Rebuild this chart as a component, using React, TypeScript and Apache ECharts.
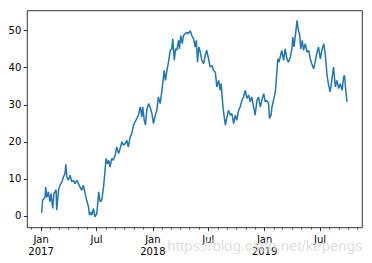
import React, { useEffect, useRef } from "react";
import * as echarts from "echarts";

// Day offsets from 2017-01-01 and the cumulative values
const dayOffsets = [
  0, 2, 5, 13, 15, 19, 24, 29, 33, 38,
  42, 49, 51, 57, 62, 68, 73, 78, 81, 84,
  89, 95, 100, 106, 111, 117, 122, 127, 133, 138,
  144, 149, 155, 158, 162, 166, 171, 176, 182, 185,
  188, 193, 198, 204, 209, 212, 217, 221, 225, 231,
  236, 242, 247, 253, 258, 264, 269, 275, 280, 285,
  291, 296, 302, 307, 313, 318, 324, 329, 332, 337,
  341, 345, 351, 356, 362, 367, 373, 378, 383, 389,
  394, 398, 402, 406, 411, 416, 422, 427, 430, 435,
  439, 443, 449, 452, 456, 461, 465, 471, 476, 481,
  487, 492, 498, 503, 507, 511, 515, 520, 525, 531,
  536, 541, 547, 552, 558, 563, 569, 574, 580, 585,
  588, 594, 598, 602, 607, 612, 618, 623, 629, 634,
  639, 645, 650, 656, 661, 667, 672, 678, 683, 688,
  694, 699, 705, 710, 716, 721, 727, 732, 737, 743,
  746, 751, 754, 759, 765, 768, 773, 777, 781, 786,
  792, 797, 803, 808, 814, 819, 822, 826, 831, 836,
  840, 844, 848, 853, 857, 863, 868, 874, 879, 884,
  890, 895, 900, 906, 912, 917, 923, 928, 934, 939,
  944, 950, 955, 961, 966, 972, 977, 983, 988, 991,
  995, 999,
];

const seriesValues = [
  0.9, 1.0, 4.2, 5, 7.8, 5, 6.5, 3.8, 6, 2,
  6, 7, 1.5, 7, 8.3, 9.2, 10.5, 11.4, 13.9, 10.5,
  9.6, 11, 9.2, 9.6, 8.7, 9.6, 8.7, 7.8, 6.9, 8.3,
  6, 4.2, 2.4, 0.2, 1, 0.2, 2, -0.3, 0.6, 3.3,
  6.5, 3.8, 4.2, 7.8, 12.3, 15.5, 14, 15, 13.2, 15.5,
  15, 16.4, 18.6, 16.8, 18.1, 20, 19.1, 19.5, 20.4, 18.6,
  21.3, 22.2, 24.5, 25.4, 26.3, 27.2, 29.4, 26.7, 29.4, 25.8,
  24.5, 28.5, 30.3, 29.4, 27.6, 24.9, 27.2, 28.5, 32.1, 30.3,
  33.5, 36.2, 39.3, 36.6, 39.3, 41.5, 44.7, 45.1, 47.8, 42,
  45.1, 44.7, 47.4, 45.1, 48.7, 46.5, 48.7, 49.2, 49.6, 49.2,
  50, 48.7, 47.8, 45.6, 47.4, 41.5, 45.6, 44.2, 42, 41.1,
  43.3, 44.7, 42.4, 40.2, 40.6, 39.3, 38.8, 34.8, 36.6, 33.9,
  35.7, 29.4, 26.7, 24.5, 26.7, 28.5, 27.2, 27.6, 24.9, 27.2,
  25.8, 28.5, 29.4, 31.2, 32.1, 33.9, 31.7, 32.6, 30.8, 32.1,
  29.4, 27.2, 31.2, 32.1, 29.4, 31.2, 33, 30.8, 31.2, 30.3,
  26.3, 27.2, 29.4, 31.2, 33.5, 36.6, 42.4, 41.5, 42.9, 44.7,
  42, 45.1, 42.4, 41.5, 42.9, 45.1, 48.3, 45.6, 49.2, 52.8,
  50.1, 49.2, 45.1, 47.4, 44.7, 46.5, 44.2, 44.7, 42.4, 41.1,
  39.7, 41.5, 43.7, 45.6, 42.4, 44.7, 46.5, 43.7, 37.9, 35.3,
  33.5, 37, 40.2, 34.8, 36.6, 34.4, 35.7, 33.9, 37.5, 37.9,
  33.9, 30.8,
];

const yTickValues = [0, 10, 20, 30, 40, 50];
const monthNames = ["Jan", "Feb", "Mar", "Apr", "May", "Jun", "Jul", "Aug", "Sep", "Oct", "Nov", "Dec"];
const majorMonths = [0, 6];
const watermark = "https://blog.csdn.net/kepengs";

const BASE = Date.UTC(2017, 0, 1);
const DAY = 86400000;
const X_MIN = -45;
const X_MAX = 1049;

function monthStarts() {
  const out: { off: number; m: number; y: number }[] = [];
  for (let y = 2016; y <= 2019; y++) {
    for (let m = 0; m < 12; m++) {
      const off = Math.round((Date.UTC(y, m, 1) - BASE) / DAY);
      if (off >= X_MIN && off <= X_MAX) out.push({ off, m, y });
    }
  }
  return out;
}

export default function App() {
  const ref = useRef<HTMLDivElement>(null);
  useEffect(() => {
    if (!ref.current) return;
    const chart = echarts.init(ref.current, undefined, { renderer: "svg" });
    const months = monthStarts();
    const major = months.filter((d) => majorMonths.includes(d.m));
    const minor = months.filter((d) => !majorMonths.includes(d.m));
    const labelMap: Record<number, string> = {};
    major.forEach((d) => {
      labelMap[d.off] = d.m === 0 ? `${monthNames[d.m]}\n${d.y}` : monthNames[d.m];
    });
    const font = "DejaVu Sans";
    chart.setOption({
      animation: false,
      backgroundColor: "#fff",
      grid: {
        left: 27.3,
        right: 9.7,
        top: 10.7,
        bottom: 35.3,
        show: true,
        borderColor: "#000",
        borderWidth: 0.8,
        backgroundColor: "transparent",
      },
      xAxis: [
        {
          type: "value",
          min: X_MIN,
          max: X_MAX,
          position: "bottom",
          axisLine: { show: false, onZero: false },
          splitLine: { show: false },
          axisTick: {
            show: true,
            length: 3.5,
            inside: false,
            lineStyle: { color: "#000", width: 0.8 },
            customValues: major.map((d) => d.off),
          },
          axisLabel: {
            show: true,
            margin: 6,
            color: "#000",
            fontFamily: font,
            fontSize: 10,
            lineHeight: 12,
            customValues: major.map((d) => d.off),
            formatter: (v: number) => labelMap[Math.round(v)] ?? "",
          },
        },
        {
          type: "value",
          min: X_MIN,
          max: X_MAX,
          position: "bottom",
          axisLine: { show: false, onZero: false },
          splitLine: { show: false },
          axisTick: {
            show: true,
            length: 2,
            inside: false,
            lineStyle: { color: "#000", width: 0.6 },
            customValues: minor.map((d) => d.off),
          },
          axisLabel: { show: false },
        },
      ],
      yAxis: {
        type: "value",
        min: -3.2,
        max: 55.4,
        position: "left",
        axisLine: { show: false, onZero: false },
        splitLine: { show: false },
        axisTick: {
          show: true,
          length: 3.5,
          inside: false,
          lineStyle: { color: "#000", width: 0.8 },
          customValues: yTickValues,
        },
        axisLabel: {
          show: true,
          margin: 6,
          color: "#000",
          fontFamily: font,
          fontSize: 10,
          customValues: yTickValues,
        },
      },
      graphic: [
        {
          type: "text",
          right: 9,
          top: 237,
          z: 100,
          silent: true,
          style: {
            text: watermark,
            fontFamily: "Liberation Sans",
            fontSize: 15,
            fill: "rgba(195,195,195,0.55)",
            stroke: "rgba(255,255,255,0.5)",
            lineWidth: 1,
          },
        },
      ],
      series: [
        {
          type: "line",
          xAxisIndex: 0,
          data: dayOffsets.map((d, i) => [d, seriesValues[i]]),
          showSymbol: false,
          symbol: "none",
          lineStyle: { color: "#1f77b4", width: 1.5 },
          itemStyle: { color: "#1f77b4" },
        },
      ],
    });
    return () => chart.dispose();
  }, []);
  return (
    <div
      ref={ref}
      style={{ position: "absolute", left: 0, top: 0, width: 372, height: 263 }}
    />
  );
}
